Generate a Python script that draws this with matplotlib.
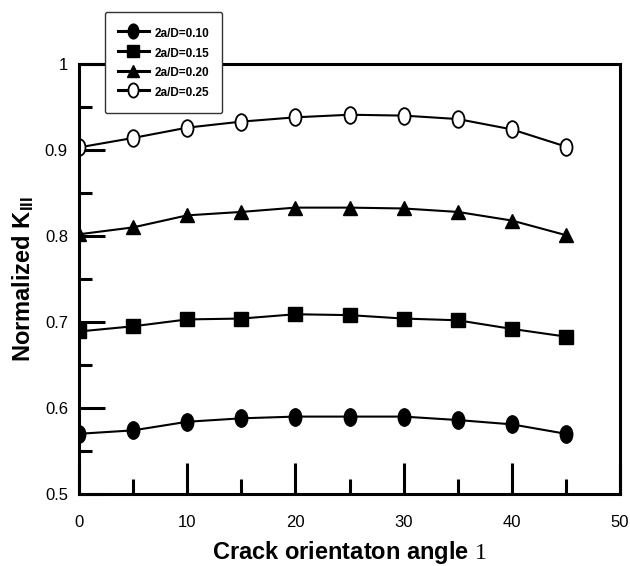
import numpy as np
import matplotlib
matplotlib.use("Agg")
import matplotlib.pyplot as plt
from matplotlib.path import Path
from matplotlib.ticker import MultipleLocator, FixedLocator, FixedFormatter

plt.rcParams['font.family'] = ['Liberation Sans', 'DejaVu Sans']
plt.rcParams['mathtext.fontset'] = 'custom'
plt.rcParams['mathtext.rm'] = 'Liberation Serif'
plt.rcParams['mathtext.bf'] = 'Liberation Sans:bold'

# crack orientation angle (deg) and normalized K_III for each crack size
angles = [0, 5, 10, 15, 20, 25, 30, 35, 40, 45]
k_010 = [0.570, 0.574, 0.584, 0.588, 0.590, 0.590, 0.590, 0.586, 0.581, 0.570]
k_015 = [0.689, 0.695, 0.703, 0.704, 0.709, 0.708, 0.704, 0.702, 0.692, 0.683]
k_020 = [0.802, 0.810, 0.824, 0.828, 0.833, 0.833, 0.832, 0.828, 0.818, 0.801]
k_025 = [0.903, 0.914, 0.926, 0.933, 0.938, 0.941, 0.940, 0.936, 0.924, 0.904]
labels = ['2a/D=0.10', '2a/D=0.15', '2a/D=0.20', '2a/D=0.25']
ytick_vals = [0.5, 0.6, 0.7, 0.8, 0.9, 1.0]
ytick_text = ['0.5', '0.6', '0.7', '0.8', '0.9', '1']

# slightly tall ellipse used for the round markers
circ = Path.unit_circle()
ellipse = Path(circ.vertices * np.array([0.72, 1.0]), circ.codes)

fig = plt.figure(figsize=(6.3, 5.66), dpi=100)
ax = fig.add_axes([79 / 630, 72 / 566, 541 / 630, 430 / 566])

ax.plot(angles, k_010, color='black', lw=1.5, marker=ellipse, ms=12.5,
        mfc='black', mec='black', label=labels[0])
ax.plot(angles, k_015, color='black', lw=1.5, marker='s', ms=10,
        mfc='black', mec='black', label=labels[1])
ax.plot(angles, k_020, color='black', lw=1.5, marker='^', ms=10,
        mfc='black', mec='black', label=labels[2])
ax.plot(angles, k_025, color='black', lw=1.5, marker=ellipse, ms=12,
        mfc='white', mec='black', mew=1.3, label=labels[3])

ax.set_xlim(0, 50)
ax.set_ylim(0.5, 1.0)
ax.xaxis.set_major_locator(MultipleLocator(10))
ax.xaxis.set_minor_locator(MultipleLocator(5))
ax.yaxis.set_major_locator(FixedLocator(ytick_vals))
ax.yaxis.set_major_formatter(FixedFormatter(ytick_text))
ax.yaxis.set_minor_locator(MultipleLocator(0.05))

for s in ax.spines.values():
    s.set_linewidth(2.2)
ax.tick_params(axis='x', which='major', direction='in', length=22, width=2.2,
               pad=15, labelsize=12)
ax.tick_params(axis='x', which='minor', direction='in', length=11, width=2.2)
ax.tick_params(axis='y', which='major', direction='in', length=19, width=2.2,
               pad=8, labelsize=12)
ax.tick_params(axis='y', which='minor', direction='in', length=9.5, width=2.2)

ax.set_xlabel(r'Crack orientaton angle $\mathrm{1}$', fontsize=17,
              fontweight='bold')
ax.xaxis.set_label_coords(0.5, -0.105)
ax.set_ylabel(r'Normalized $\mathbf{K_{III}}$', fontsize=17, fontweight='bold')
ax.yaxis.set_label_coords(-0.08, 0.5)

leg = ax.legend(loc='upper left', bbox_to_anchor=(105 / 630, 1 - 12 / 566),
                bbox_transform=fig.transFigure, borderaxespad=0,
                prop={'weight': 'bold', 'size': 8.5}, handlelength=2.6,
                handleheight=1.7, handletextpad=0.5, labelspacing=0.33,
                borderpad=1.1, fancybox=True, framealpha=1, markerscale=0.85)
leg.get_frame().set_edgecolor('#333333')
leg.get_frame().set_linewidth(1.0)
for h in leg.get_lines():
    h.set_linewidth(2.2)

fig.savefig('out.png', dpi=100)
